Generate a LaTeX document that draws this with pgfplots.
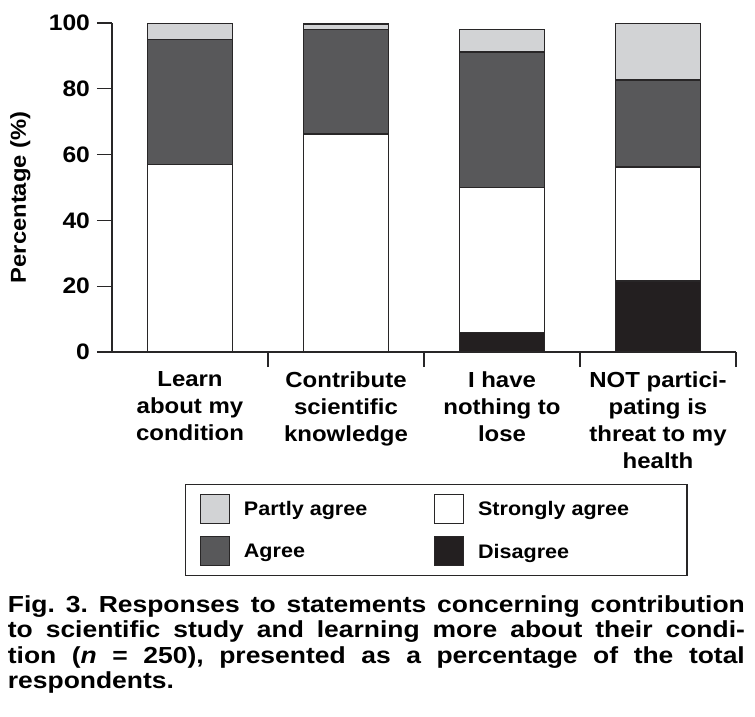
\documentclass[border=0pt]{standalone}
\usepackage{fontspec}
\setmainfont{Liberation Sans}[FakeStretch=1.1]
\newfontfamily\capfont{Liberation Sans}[FakeStretch=1.14]
\usepackage{pgfplots}
\pgfplotsset{compat=1.18}
\definecolor{lgray}{RGB}{210,211,213}
\definecolor{dgray}{RGB}{88,88,90}
\definecolor{blk}{RGB}{35,31,32}
\definecolor{outl}{RGB}{40,38,39}
\pgfplotsset{/pgfplots/ybar legend/.style={/pgfplots/legend image code/.code={\draw[##1,line width=0.6pt,draw=outl] (0pt,-7.25pt) rectangle (14.5pt,7.25pt);}}}
\begin{document}
\begin{tikzpicture}
\useasboundingbox (-56pt,-182.5pt) rectangle (321.5pt,176pt);
\begin{axis}[
  at={(0,0)}, anchor=south west,
  scale only axis, width=312pt, height=164.5pt,
  xmin=-0.5, xmax=3.5, ymin=0, ymax=100,
  axis x line=bottom, axis y line=left,
  axis line style={-, line width=0.7pt, draw=outl},
  ybar stacked, bar width=0.545,
  tick align=outside, major tick length=7.5pt,
  tick style={line width=0.7pt, draw=outl},
  xtick={0.5,1.5,2.5,3.5}, xticklabels={},
  extra x ticks={0,1,2,3},
  extra x tick labels={{Learn\\about my\\condition},{Contribute\\scientific\\knowledge},{I have\\nothing to\\lose},{NOT partici-\\pating is\\threat to my\\health}},
  extra x tick style={major tick length=0pt, xticklabel style={align=center, anchor=north, yshift=-6.2pt, font=\bfseries\fontsize{10.9}{13.5}\selectfont}},
  ytick={0,20,40,60,80,100},
  yticklabel style={font=\bfseries\fontsize{11.2}{13}\selectfont},
  /pgf/number format/assume math mode=true,
  ylabel={Percentage (\%)},
  ylabel style={at={(axis description cs:-0.147,0.47)}, anchor=center, font=\bfseries\fontsize{10.8}{13}\selectfont},
  every axis plot/.append style={draw=outl, line width=0.65pt},
  legend columns=2,
  legend style={at={(axis description cs:0.117,-0.4012)}, anchor=north west,
    draw=outl, line width=0.7pt, inner xsep=7pt, inner ysep=4.5pt,
    column sep=7pt, row sep=6.1pt,
    cells={anchor=west},
    nodes={inner sep=0pt, text depth=0pt},
    font=\bfseries\fontsize{9.8}{11}\selectfont},
]
\addplot[fill=blk, forget plot] coordinates {(0,0) (1,0) (2,6) (3,21.6)};
\addplot[fill=white, forget plot] coordinates {(0,57) (1,66.3) (2,44) (3,34.6)};
\addplot[fill=dgray, forget plot] coordinates {(0,38) (1,31.8) (2,41.2) (3,26.5)};
\addplot[fill=lgray, forget plot] coordinates {(0,4.9) (1,1.6) (2,6.9) (3,17.2)};
\addlegendimage{ybar legend, fill=lgray}
\addlegendentry{\makebox[88pt][l]{Partly agree}}
\addlegendimage{ybar legend, fill=white}
\addlegendentry{\makebox[97.5pt][l]{Strongly agree}}
\addlegendimage{ybar legend, fill=dgray}
\addlegendentry{\makebox[88pt][l]{Agree}}
\addlegendimage{ybar legend, fill=blk}
\addlegendentry{\makebox[97.5pt][l]{Disagree}}
\end{axis}
\node[anchor=north west, inner sep=0pt, text width=368.5pt, align=justify,
  font=\capfont\bfseries\fontsize{11.6}{12.65}\selectfont] at (-52.25pt,-121.7pt)
  {\frenchspacing\hyphenpenalty=10000 Fig.~3. Responses to statements concerning contribution\linebreak to scientific study and learning more about their condi-\linebreak tion (\textit{n} = 250), presented as a percentage of the total\linebreak respondents.};
\end{tikzpicture}
\end{document}
